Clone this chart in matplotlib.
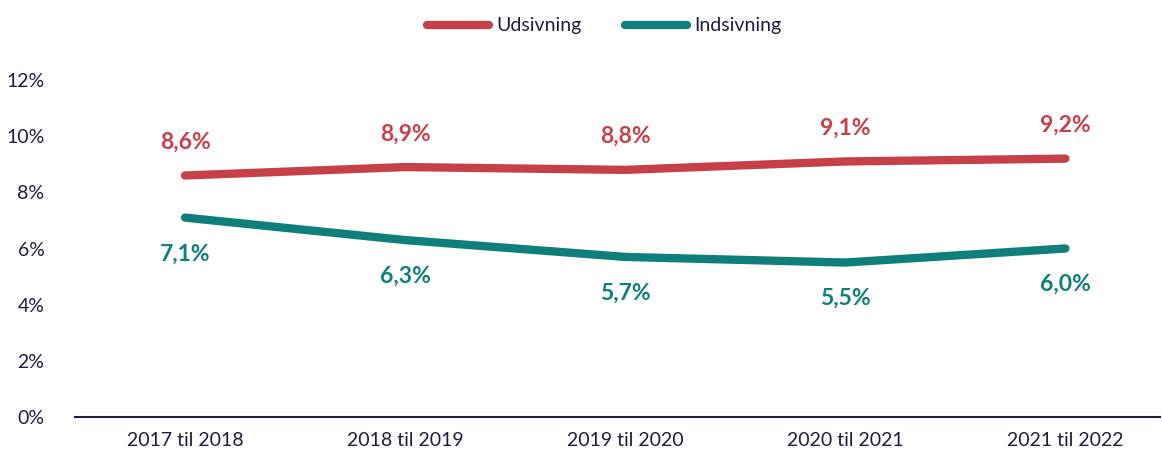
import matplotlib.pyplot as plt
from matplotlib.ticker import FuncFormatter

plt.rcParams['font.family'] = ['Lato', 'DejaVu Sans']

categories = ["2017 til 2018", "2018 til 2019", "2019 til 2020", "2020 til 2021", "2021 til 2022"]
udsivning = [8.6, 8.9, 8.8, 9.1, 9.2]
indsivning = [7.1, 6.3, 5.7, 5.5, 6.0]
y_ticks = [0, 2, 4, 6, 8, 10, 12]

RED = "#C84047"
TEAL = "#0E7F7A"
NAVY = "#1B1F3F"

fig = plt.figure(figsize=(11.62, 4.57), dpi=100)
ax = fig.add_axes([75 / 1162, 1 - 417 / 457, (1160 - 75) / 1162, (417 - 80) / 457])

x = list(range(len(categories)))
ax.plot(x, udsivning, color=RED, lw=6, solid_capstyle="round", label="Udsivning")
ax.plot(x, indsivning, color=TEAL, lw=6, solid_capstyle="round", label="Indsivning")

for i, v in enumerate(udsivning):
    ax.annotate(f"{v:.1f}%".replace(".", ","), (i, v), xytext=(0, 24), textcoords="offset points",
                ha="center", va="center", color=RED, fontsize=16.5, fontweight="bold")
for i, v in enumerate(indsivning):
    ax.annotate(f"{v:.1f}%".replace(".", ","), (i, v), xytext=(0, -26), textcoords="offset points",
                ha="center", va="center", color=TEAL, fontsize=16.5, fontweight="bold")

ax.set_xlim(-0.5, 4.43)
ax.set_ylim(0, 12)
ax.set_yticks(y_ticks)
ax.yaxis.set_major_formatter(FuncFormatter(lambda v, p: f"{v:.0f}%"))
ax.set_xticks(x)
ax.set_xticklabels(categories)
ax.tick_params(axis="both", length=0, labelsize=14, colors=NAVY)
ax.tick_params(axis="x", pad=11)
ax.tick_params(axis="y", pad=22)
for s in ["top", "right", "left"]:
    ax.spines[s].set_visible(False)
ax.spines["bottom"].set_color(NAVY)
ax.spines["bottom"].set_linewidth(1.5)

fig.legend(loc="upper center", bbox_to_anchor=(0.52, 1.0), ncol=2, frameon=False,
           fontsize=14, labelcolor=NAVY, handlelength=3.2, handletextpad=0.4, columnspacing=2.2)

fig.savefig("out.png", dpi=100)
